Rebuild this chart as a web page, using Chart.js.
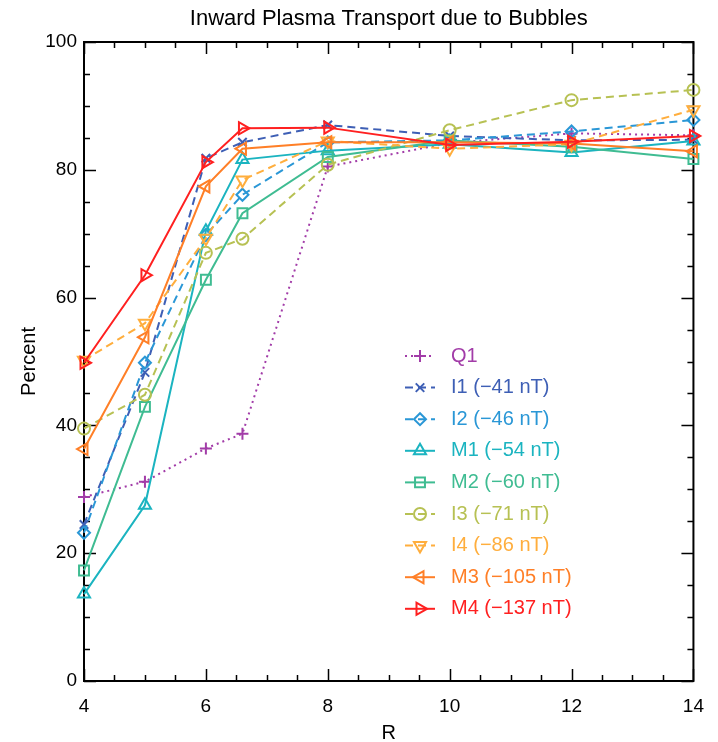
<!DOCTYPE html>
<html><head><meta charset="utf-8">
<script src="https://cdn.jsdelivr.net/npm/chart.js@4.4.1/dist/chart.umd.min.js"></script>
<style>html,body{margin:0;padding:0;background:#fff}canvas{display:block}</style>
</head><body>
<canvas id="c" width="718" height="742"></canvas>
<script>
// ---- data ----
const rValues = [4, 5, 6, 6.6, 8, 10, 12, 14];
const seriesNames = ['Q1', 'I1 (\u221241 nT)', 'I2 (\u221246 nT)', 'M1 (\u221254 nT)', 'M2 (\u221260 nT)',
  'I3 (\u221271 nT)', 'I4 (\u221286 nT)', 'M3 (\u2212105 nT)', 'M4 (\u2212137 nT)'];
const q1 = [28.8, 31.2, 36.4, 38.7, 80.5, 84.2, 85.7, 85.4];
const i1 = [24.5, 48.3, 81.8, 84.3, 87.0, 85.3, 84.6, 84.7];
const i2 = [23.2, 49.8, 69.8, 76.1, 84.3, 84.6, 86.0, 87.8];
const m1 = [13.6, 27.5, 70.4, 81.6, 83.0, 84.0, 82.7, 84.5];
const m2 = [17.3, 42.9, 62.8, 73.2, 82.0, 84.6, 83.6, 81.7];
const i3 = [39.5, 44.8, 67.0, 69.2, 80.8, 86.2, 90.9, 92.5];
const i4 = [50.2, 56.0, 69.3, 78.4, 84.5, 83.3, 84.0, 89.4];
const m3 = [36.3, 53.8, 77.4, 83.3, 84.3, 84.3, 84.1, 82.9];
const m4 = [49.8, 63.5, 81.2, 86.5, 86.6, 83.9, 84.4, 85.3];
const xTicks = [4, 6, 8, 10, 12, 14];
const yTicks = [0, 20, 40, 60, 80, 100];
const titleText = 'Inward Plasma Transport due to Bubbles';
const xTitle = 'R';
const yTitle = 'Percent';

// ---- styles ----
const seriesValues = [q1, i1, i2, m1, m2, i3, i4, m3, m4];
const styles = [
  {color: '#A23CA8', dash: [2, 4], point: 'cross', r: 6, rot: 0},
  {color: '#3E5FB5', dash: [8, 5], point: 'crossRot', r: 6, rot: 0},
  {color: '#2A97D6', dash: [8, 5], point: 'rectRot', r: 6, rot: 0},
  {color: '#1BB4C0', dash: [], point: 'triangle', r: 7, rot: 0},
  {color: '#3FBC92', dash: [], point: 'rect', r: 7, rot: 0},
  {color: '#B7C153', dash: [8, 5], point: 'circle', r: 6, rot: 0},
  {color: '#FFAE3D', dash: [8, 5], point: 'triangle', r: 7, rot: 180},
  {color: '#FF7F27', dash: [], point: 'triangle', r: 7, rot: 270},
  {color: '#FF2020', dash: [], point: 'triangle', r: 7, rot: 90}
];
const FONT = "'Liberation Sans', Arial, sans-serif";

const datasets = seriesValues.map((vals, i) => ({
  label: seriesNames[i],
  data: rValues.map((r, k) => ({x: r, y: vals[k]})),
  borderColor: styles[i].color,
  borderWidth: 2,
  borderDash: styles[i].dash,
  pointStyle: styles[i].point,
  pointRadius: styles[i].r,
  pointRotation: styles[i].rot,
  pointBorderColor: styles[i].color,
  pointBackgroundColor: 'rgba(0,0,0,0)',
  pointBorderWidth: 2,
  tension: 0,
  fill: false,
  clip: false,
  order: seriesValues.length - 1 - i
}));

const framePlugin = {
  id: 'frame',
  beforeDatasetsDraw(chart) {
    const {ctx, chartArea: a, scales: {x, y}} = chart;
    ctx.save();
    ctx.strokeStyle = '#000';
    ctx.lineWidth = 2;
    ctx.setLineDash([]);
    ctx.strokeRect(a.left, a.top, a.right - a.left, a.bottom - a.top);
    ctx.lineWidth = 1.5;
    ctx.beginPath();
    for (let v = 4; v <= 14.001; v += 0.5) {
      const px = Math.round(x.getPixelForValue(v)) + 0.5;
      const len = (Math.abs(v % 2) < 1e-6) ? 12 : 6;
      ctx.moveTo(px, a.bottom); ctx.lineTo(px, a.bottom - len);
      ctx.moveTo(px, a.top); ctx.lineTo(px, a.top + len);
    }
    for (let v = 0; v <= 100.001; v += 5) {
      const py = Math.round(y.getPixelForValue(v)) + 0.5;
      const len = (Math.abs(v % 20) < 1e-6) ? 12 : 6;
      ctx.moveTo(a.left, py); ctx.lineTo(a.left + len, py);
      ctx.moveTo(a.right, py); ctx.lineTo(a.right - len, py);
    }
    ctx.stroke();
    ctx.restore();
  },
  afterDatasetsDraw(chart) {
    const {ctx, chartArea: a} = chart;
    ctx.save();
    // title
    ctx.fillStyle = '#000';
    ctx.font = '22px ' + FONT;
    ctx.textAlign = 'center';
    ctx.textBaseline = 'middle';
    ctx.fillText(titleText, (a.left + a.right) / 2, 19);
    // legend
    const lx0 = 405, lx1 = 435, tx = 451, y0 = 356, dy = 31.6;
    ctx.font = '20px ' + FONT;
    ctx.textAlign = 'left';
    chart.data.datasets.forEach((ds, i) => {
      const yy = y0 + i * dy;
      ctx.strokeStyle = ds.borderColor;
      ctx.lineWidth = 2;
      ctx.setLineDash(ds.borderDash);
      ctx.beginPath(); ctx.moveTo(lx0, yy); ctx.lineTo(lx1, yy); ctx.stroke();
      ctx.setLineDash([]);
      ctx.fillStyle = 'rgba(0,0,0,0)';
      Chart.helpers.drawPoint(ctx, {pointStyle: ds.pointStyle, radius: ds.pointRadius, rotation: ds.pointRotation, borderWidth: 2}, (lx0 + lx1) / 2, yy);
      ctx.fillStyle = ds.borderColor;
      ctx.fillText(ds.label, tx, yy);
    });
    ctx.restore();
  }
};

new Chart(document.getElementById('c'), {
  type: 'line',
  data: {datasets},
  plugins: [framePlugin],
  options: {
    responsive: false,
    animation: false,
    devicePixelRatio: 1,
    layout: {padding: {left: 0, top: 42, right: 23, bottom: 0}},
    plugins: {legend: {display: false}, tooltip: {enabled: false}, title: {display: false}},
    scales: {
      x: {
        type: 'linear', min: 4, max: 14,
        afterBuildTicks: s => { s.ticks = xTicks.map(v => ({value: v})); },
        afterFit: s => { s.height = 61; },
        grid: {display: false, drawTicks: false},
        border: {display: false},
        ticks: {font: {family: FONT, size: 19}, color: '#000', padding: 14, maxRotation: 0, autoSkip: false},
        title: {display: true, text: xTitle, color: '#000', font: {family: FONT, size: 20, lineHeight: 1}, padding: {top: 0, bottom: -1}}
      },
      y: {
        type: 'linear', min: 0, max: 100,
        afterBuildTicks: s => { s.ticks = yTicks.map(v => ({value: v})); },
        afterFit: s => { s.width = 84; },
        grid: {display: false, drawTicks: false},
        border: {display: false},
        ticks: {font: {family: FONT, size: 19}, color: '#000', padding: 7, autoSkip: false},
        title: {display: true, text: yTitle, color: '#000', font: {family: FONT, size: 20, lineHeight: 1.2}, padding: {top: 17, bottom: 0}}
      }
    }
  }
});
</script>
</body></html>
